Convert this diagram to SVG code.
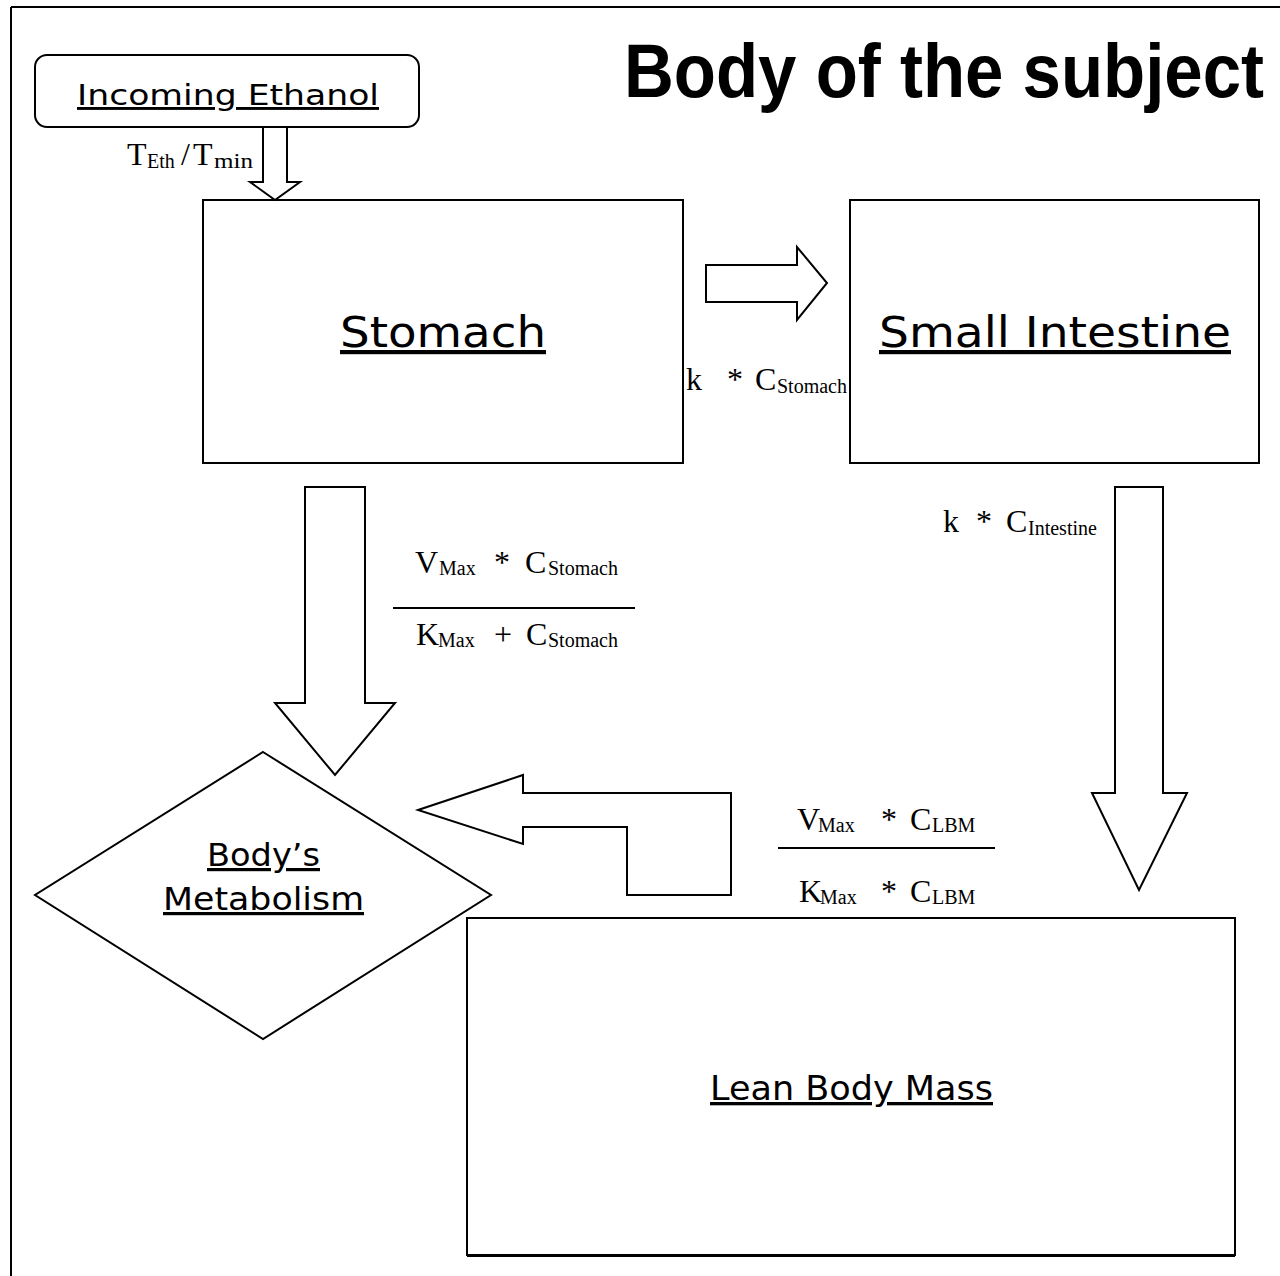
<svg xmlns="http://www.w3.org/2000/svg" width="1280" height="1276" viewBox="0 0 1280 1276">
<style>
.sh{fill:#fff;stroke:#000;stroke-width:2;stroke-linejoin:miter}
.lbl{font-family:"DejaVu Sans","Verdana",sans-serif;fill:#000;text-decoration:underline}
.m{font-family:"Liberation Serif","Times New Roman",serif;font-size:32px;fill:#000}
.s{font-size:20px}
.title{font-family:"Liberation Sans",Arial,sans-serif;font-weight:bold;font-size:69px;fill:#000}
</style>
<rect width="1280" height="1276" fill="#fff"/>
<g id="frame">
<line x1="11" y1="7" x2="1280" y2="7" stroke="#000" stroke-width="2"/>
<line x1="11" y1="7" x2="11" y2="1276" stroke="#000" stroke-width="2"/>
</g>
<text class="title" transform="translate(624,97) scale(1,1.1)">Body of the subject</text>
<g id="incoming">
<rect class="sh" x="35" y="55" width="384" height="72" rx="12"/>
<text class="lbl" x="77" y="105" font-size="29" textLength="302" lengthAdjust="spacingAndGlyphs">Incoming Ethanol</text>
</g>
<g id="stomach">
<rect class="sh" x="203" y="200" width="480" height="263"/>
<text class="lbl" x="340" y="347" font-size="42" textLength="206" lengthAdjust="spacingAndGlyphs">Stomach</text>
</g>
<g id="intestine">
<rect class="sh" x="850" y="200" width="409" height="263"/>
<text class="lbl" x="879" y="347" font-size="42" textLength="352" lengthAdjust="spacingAndGlyphs">Small Intestine</text>
</g>
<g id="metabolism">
<polygon class="sh" points="263,752 491,895 263,1039 35,895"/>
<text class="lbl" x="207" y="866" font-size="32" textLength="113" lengthAdjust="spacingAndGlyphs">Body’s</text>
<text class="lbl" x="163" y="910" font-size="32" textLength="201" lengthAdjust="spacingAndGlyphs">Metabolism</text>
</g>
<g id="lbm">
<rect class="sh" x="467" y="918" width="768" height="337"/>
<line x1="467" y1="1256" x2="1235" y2="1256" stroke="#000" stroke-width="2"/>
<text class="lbl" x="710" y="1100" font-size="33" textLength="283" lengthAdjust="spacingAndGlyphs">Lean Body Mass</text>
</g>
<g id="connectors">
<polygon class="sh" points="263,127 287,127 287,182 300,182 275,200 250,182 263,182"/>
<polygon class="sh" points="706,265 797,265 797,247 827,283 797,320 797,302 706,302"/>
<polygon class="sh" points="305,487 365,487 365,703 395,703 335,775 275,703 305,703"/>
<polygon class="sh" points="1115,487 1163,487 1163,793 1187,793 1139,890 1092,793 1115,793"/>
<polygon class="sh" points="418,810 523,775 523,793 731,793 731,895 627,895 627,827 523,827 523,844"/>
</g>
<g id="labels">
<text class="m" y="165"><tspan x="127">T</tspan><tspan class="s" x="147" dy="3">Eth</tspan><tspan x="181" dy="-3">/</tspan><tspan x="193">T</tspan><tspan class="s" x="214" dy="3" textLength="39" lengthAdjust="spacingAndGlyphs">min</tspan></text>
<text class="m" y="390"><tspan x="686">k</tspan><tspan x="727">*</tspan><tspan x="755">C</tspan><tspan class="s" x="777" dy="3">Stomach</tspan></text>
<text class="m" y="532"><tspan x="943">k</tspan><tspan x="976">*</tspan><tspan x="1006">C</tspan><tspan class="s" x="1028" dy="3" font-size="21">Intestine</tspan></text>
<text class="m" y="573"><tspan x="415">V</tspan><tspan class="s" x="439" dy="2">Max</tspan><tspan x="494" dy="-2">*</tspan><tspan x="525">C</tspan><tspan class="s" x="548" dy="2">Stomach</tspan></text>
<line x1="393" y1="608" x2="635" y2="608" stroke="#000" stroke-width="2"/>
<text class="m" y="645"><tspan x="416">K</tspan><tspan class="s" x="438" dy="2">Max</tspan><tspan x="494" dy="-2">+</tspan><tspan x="526">C</tspan><tspan class="s" x="548" dy="2">Stomach</tspan></text>
<text class="m" y="830"><tspan x="797">V</tspan><tspan class="s" x="818" dy="2">Max</tspan><tspan x="881" dy="-2">*</tspan><tspan x="910">C</tspan><tspan class="s" x="932" dy="2">LBM</tspan></text>
<line x1="778" y1="848" x2="995" y2="848" stroke="#000" stroke-width="2"/>
<text class="m" y="902"><tspan x="799">K</tspan><tspan class="s" x="820" dy="2">Max</tspan><tspan x="881" dy="-2">*</tspan><tspan x="910">C</tspan><tspan class="s" x="932" dy="2">LBM</tspan></text>
</g>
</svg>
